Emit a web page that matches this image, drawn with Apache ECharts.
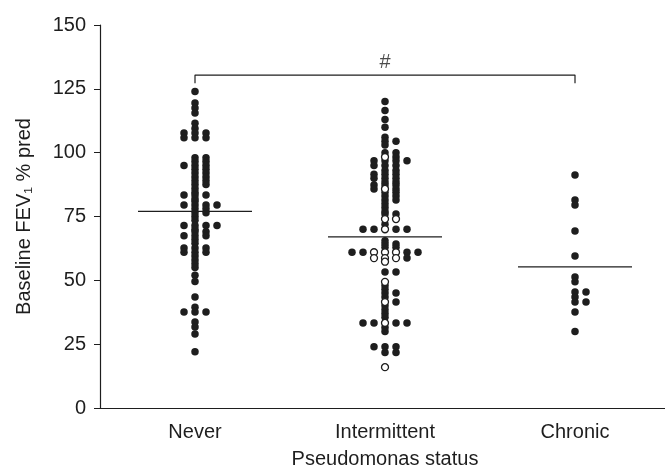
<!DOCTYPE html>
<html><head><meta charset="utf-8">
<script src="https://cdn.jsdelivr.net/npm/echarts@6/dist/echarts.min.js"></script>
<style>html,body{margin:0;padding:0;background:#fff}#c{width:665px;height:469px}</style>
</head><body><div id="c"></div>
<script>
// ---- data ----
const categories = ['Never', 'Intermittent', 'Chronic'];
const yTicks = [0, 25, 50, 75, 100, 125, 150];

const neverFilled = [
  124, 119.5, 117.5, 115.5, 111.5, 109.5,
  107.7, 107.7, 107.7, 105.8, 105.8, 105.8,
  98, 98, 96.5, 96.5, 95, 95, 95, 93.5, 93.5, 92, 92, 90.5, 90.5, 89, 89, 87.5, 87.5,
  86, 84.5, 83.4, 83.4, 83.4, 82, 81,
  79.5, 79.5, 79.5, 79.5, 78, 78, 76.5, 76.5, 75, 73.5,
  71.5, 71.5, 71.5, 71.5, 70, 69, 69, 67.5, 67.5, 67.5,
  66, 64.5, 62.7, 62.7, 62.7, 61, 61, 61, 59.5, 58, 56.5, 55,
  52, 49.5, 43.5, 39.5, 37.6, 37.6, 37.6, 33.7, 31.7, 29, 22
];
const intermittentFilled = [
  120, 116.5, 113, 110, 106, 104.5, 104.5, 103, 100, 100, 98.3,
  96.8, 96.8, 96.8, 96.8, 95, 95, 95, 93, 93, 91.5, 91.5, 91.5, 90, 90, 90,
  88.5, 88.5, 87.3, 87.3, 87.3, 85.8, 85.8, 84.5, 84.5, 83, 83, 81.5, 81.5,
  80, 78.5, 77, 76, 76, 72, 70, 70, 70, 70,
  65.5, 64.2, 64.2, 63, 63, 61, 61, 61, 61, 58.7,
  53.3, 53.3, 48, 46.5, 45, 45, 43.5, 41.5, 40, 38.5, 37, 35.5,
  33.3, 33.3, 33.3, 33.3, 31.5, 30, 24, 24, 24, 21.7, 21.7
];
const intermittentOpen = [
  98.3, 85.8, 74, 74, 70, 61, 61, 61, 58.7, 58.7, 58.7, 57.3, 49.4, 41.5, 33.3, 16
];
const chronicFilled = [
  91.3, 81.5, 79.5, 69.3, 59.5, 51.3, 49.4, 45.4, 45.4, 43.5, 41.5, 41.5, 37.6, 30
];
const medians = [77, 67, 55.3];
const bracketTop = 130.4;
const bracketEnd = 127.2;
const bracketLabel = '#';

// ---- layout helpers ----
const FONT = '"Liberation Sans", Arial, Helvetica, sans-serif';
const INK = '#1e1e1e';
const laneW = 11 / 190;      // horizontal spacing of tied dots (axis units)
const medianHalf = 0.3;
const laneOrder = [0, 1, -1, 2, -2, 3, -3, 4, -4];

function swarm(catIdx, filled, open) {
  const seen = {};
  const place = (v) => {
    const k = String(v);
    const n = seen[k] || 0;
    seen[k] = n + 1;
    return [catIdx + 0.5 + laneOrder[n] * laneW, v];
  };
  const o = (open || []).map(place);
  const f = filled.map(place);
  return { f, o };
}
const g0 = swarm(0, neverFilled, []);
const g1 = swarm(1, intermittentFilled, intermittentOpen);
const g2 = swarm(2, chronicFilled, []);

const lineStyle = { color: INK, width: 1.2 };
const medianSeries = medians.map((m, i) => ({
  type: 'line', xAxisIndex: 1, symbol: 'none', silent: true, z: 1,
  lineStyle, data: [[i + 0.5 - medianHalf, m], [i + 0.5 + medianHalf, m]]
}));

const chart = echarts.init(document.getElementById('c'), null, { renderer: 'canvas' });
chart.setOption({
  backgroundColor: '#fff',
  animation: false,
  grid: { left: 100, width: 570, top: 25, height: 383, containLabel: false, outerBoundsMode: 'none' },
  xAxis: [
    {
      type: 'category', data: categories, boundaryGap: true,
      axisLine: { lineStyle: { color: INK, width: 1.2 } },
      axisTick: { alignWithLabel: true, length: 5, lineStyle: { color: INK } },
      axisLabel: { color: INK, fontSize: 20, fontFamily: FONT, margin: 14 },
      name: 'Pseudomonas status', nameLocation: 'middle', nameGap: 41,
      nameTextStyle: { color: INK, fontSize: 20, fontFamily: FONT }
    },
    { type: 'value', min: 0, max: 3, show: false }
  ],
  yAxis: {
    type: 'value', min: yTicks[0], max: yTicks[yTicks.length - 1], interval: 25,
    axisLine: { show: true, lineStyle: { color: INK, width: 1.2 } },
    axisTick: { show: true, length: 6, lineStyle: { color: INK } },
    splitLine: { show: false },
    axisLabel: { color: INK, fontSize: 20, fontFamily: FONT, margin: 14 },
    name: 'Baseline FEV\u2081 % pred', nameLocation: 'middle', nameGap: 66,
    nameTextStyle: { color: INK, fontSize: 20, fontFamily: FONT }
  },
  series: [
    ...medianSeries,
    {
      type: 'line', xAxisIndex: 1, symbol: 'none', silent: true, lineStyle,
      data: [[0.5, bracketEnd], [0.5, bracketTop], [2.5, bracketTop], [2.5, bracketEnd]]
    },
    {
      type: 'scatter', xAxisIndex: 1, symbolSize: 0, silent: true,
      data: [[1.5, bracketTop]],
      label: { show: true, formatter: bracketLabel, position: 'top', distance: 3,
               color: INK, fontSize: 20, fontFamily: FONT }
    },
    {
      type: 'scatter', xAxisIndex: 1, symbol: 'circle', symbolSize: 7.5, z: 3,
      itemStyle: { color: INK, opacity: 1 },
      data: [...g0.f, ...g1.f, ...g2.f]
    },
    {
      type: 'scatter', xAxisIndex: 1, symbol: 'circle', symbolSize: 7, z: 4,
      itemStyle: { color: '#fff', borderColor: INK, borderWidth: 1.3, opacity: 1 },
      data: [...g1.o]
    }
  ]
});
</script>
</body></html>
